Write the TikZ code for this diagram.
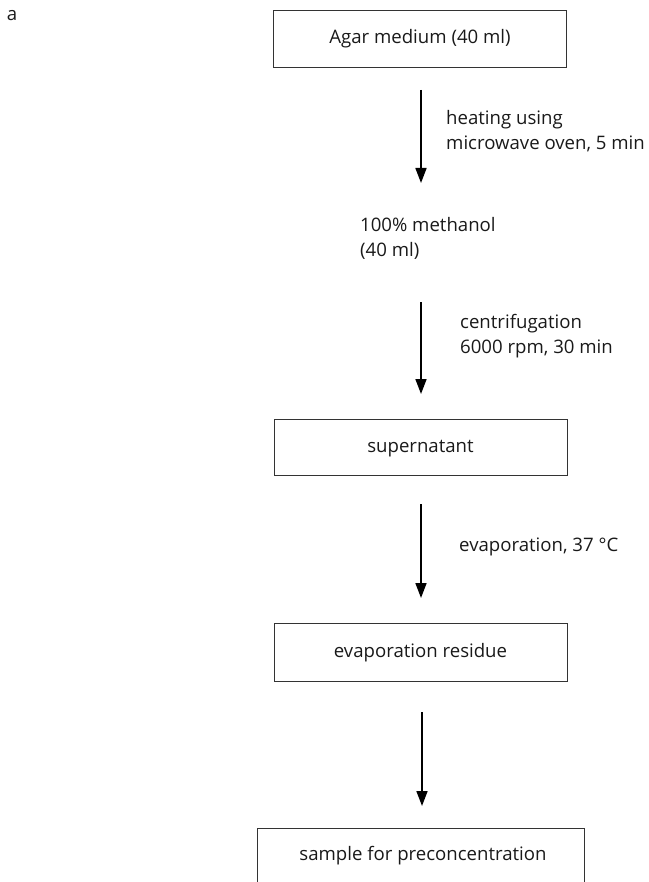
\documentclass[tikz,border=0pt]{standalone}
\usepackage{fontspec}
\setmainfont{Open Sans}
\usetikzlibrary{arrows.meta}
\begin{document}
\begin{tikzpicture}[x=1pt,y=-1pt,
  every node/.style={font=\fontsize{18.6}{25}\selectfont, text=black!90},
  stepbox/.style={draw=black!80, line width=1pt, minimum width=293pt, minimum height=57pt, inner sep=0pt, text height=14pt, text depth=4pt},
  flow/.style={line width=1.7pt, -{Triangle[width=11pt,length=15pt]}},
  lbl/.style={anchor=west, align=left, inner sep=0pt}]
\useasboundingbox (0,0) rectangle (648,882);
\clip (0,0) rectangle (648,882);
\node[inner sep=0pt] (a) at (12,16) {a};
\node[stepbox] (agar) at (420,39) {Agar medium (40 ml)};
\coordinate (a1s) at (421,90);
\coordinate (a1e) at (421,183);
\draw[flow] (a1s) -- (a1e);
\node[lbl] (heat) at (446,131) {heating using\\microwave oven, 5 min};
\node[lbl] (meth) at (360,238) {100\% methanol\\(40 ml)};
\coordinate (a2s) at (421,302);
\coordinate (a2e) at (421,394);
\draw[flow] (a2s) -- (a2e);
\node[lbl] (cent) at (460,336) {centrifugation\\6000 rpm, 30 min};
\node[stepbox, minimum height=56pt] (sup) at (420.5,447) {supernatant};
\coordinate (a3s) at (421,504);
\coordinate (a3e) at (421,598);
\draw[flow] (a3s) -- (a3e);
\node[lbl] (evap) at (459,547) {evaporation, 37 °C};
\node[stepbox, minimum height=58pt] (res) at (420.5,652) {evaporation residue};
\coordinate (a4s) at (422,712);
\coordinate (a4e) at (422,806);
\draw[flow] (a4s) -- (a4e);
\draw[draw=black!80, line width=1pt] (257,900) -- (257,828) -- (584,828) -- (584,900);
\node[text height=14pt, text depth=4pt, inner sep=0pt] (samp) at (423,855) {sample for preconcentration};
\end{tikzpicture}
\end{document}
